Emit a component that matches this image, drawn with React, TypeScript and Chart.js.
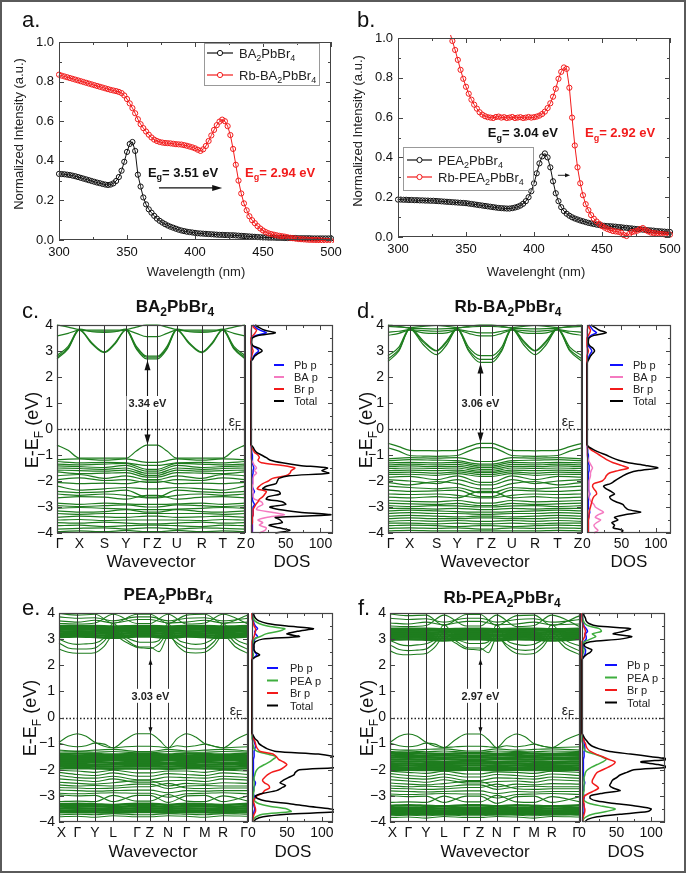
import React, { useEffect, useRef } from "react";
import { Chart, registerables } from "chart.js";

Chart.register(...registerables);

const FONT = "'Liberation Sans', Arial, Helvetica, sans-serif";
Chart.defaults.font.family = FONT;

// ---------------- absorption data (panels a, b) ----------------
const wavelengths = [300,302,304,306,308,310,312,314,316,318,320,322,324,326,328,330,332,334,336,338,340,342,344,346,348,350,352,354,356,358,360,362,364,366,368,370,372,374,376,378,380,382,384,386,388,390,392,394,396,398,400,402,404,406,408,410,412,414,416,418,420,422,424,426,428,430,432,434,436,438,440,442,444,446,448,450,452,454,456,458,460,462,464,466,468,470,472,474,476,478,480,482,484,486,488,490,492,494,496,498,500];
const absBA = [.334,.333,.332,.330,.328,.325,.322,.318,.314,.310,.306,.302,.298,.294,.290,.287,.283,.280,.278,.280,.286,.298,.318,.350,.395,.445,.485,.495,.450,.330,.270,.215,.180,.155,.138,.122,.108,.097,.088,.080,.073,.067,.062,.057,.052,.048,.045,.042,.040,.038,.036,.034,.033,.032,.031,.030,.029,.028,.027,.026,.026,.025,.025,.024,.024,.023,.022,.021,.020,.019,.018,.017,.016,.015,.014,.013,.013,.012,.012,.012,.011,.011,.011,.010,.010,.010,.010,.010,.009,.009,.009,.009,.009,.008,.008,.008,.008,.008,.008,.008,.008];
const absRbBA = [.835,.830,.826,.822,.818,.814,.810,.806,.802,.798,.794,.790,.786,.782,.778,.774,.770,.766,.762,.758,.755,.752,.748,.742,.730,.712,.690,.666,.640,.610,.585,.565,.548,.532,.518,.507,.500,.495,.492,.490,.489,.488,.486,.484,.483,.482,.479,.476,.472,.468,.463,.456,.450,.458,.475,.500,.528,.556,.580,.598,.608,.600,.575,.530,.460,.380,.300,.235,.185,.150,.120,.100,.085,.070,.058,.048,.040,.034,.030,.027,.024,.021,.019,.017,.014,.011,.009,.007,.005,.004,.003,.002,.001,.001,0,0,-.002,-.003,-.004,-.005,-.005];
const absPEA = [.188,.188,.187,.187,.186,.186,.185,.185,.184,.184,.183,.183,.182,.182,.181,.180,.179,.178,.177,.176,.175,.174,.173,.172,.171,.170,.168,.166,.164,.162,.160,.158,.156,.154,.152,.150,.148,.146,.145,.144,.143,.143,.145,.148,.152,.158,.167,.180,.200,.230,.270,.320,.370,.405,.420,.400,.350,.280,.220,.180,.150,.130,.117,.107,.099,.093,.088,.083,.079,.075,.071,.068,.065,.062,.060,.058,.056,.055,.054,.053,.052,.050,.049,.047,.046,.044,.043,.041,.040,.038,.037,.036,.034,.033,.032,.030,.029,.028,.027,.026,.025];
const wavelengthsRbPEA = [334,336,338,340,342,344,346,348,350,352,354,356,358,360,362,364,366,368,370,372,374,376,378,380,382,384,386,388,390,392,394,396,398,400,402,404,406,408,410,412,414,416,418,420,422,424,426,428,430,432,434,436,438,440,442,444,446,448,450,452,454,456,458,460,462,464,466,468,470,472,474,476,478,480,482,484,486,488,490,492,494,496,498,500];
const absRbPEA = [1.15,1.09,1.03,.985,.94,.89,.84,.795,.755,.72,.69,.665,.645,.627,.615,.607,.602,.600,.598,.603,.605,.600,.602,.598,.600,.603,.598,.600,.602,.598,.600,.603,.600,.602,.605,.610,.618,.630,.648,.672,.705,.745,.795,.830,.852,.845,.750,.600,.460,.350,.270,.210,.165,.135,.110,.092,.078,.066,.055,.047,.040,.035,.030,.028,.026,.022,.010,.005,.015,.025,.028,.032,.040,.045,.035,.028,.022,.020,.018,.016,.015,.013,.012,.012];

// ---------------- band structure: BA2PbBr4 (c) ----------------
const kLabelsBA = ["Γ","X","S","Y","Γ","Z","U","R","T","Z"];
const kPosBA = [0,22.3,47.3,69,89.7,100.3,119.7,144.7,165.7,188];
const kFineBA = [0,11.15,22.3,34.8,47.3,58.15,69,79.35,89.7,95,100.3,110,119.7,132.2,144.7,155.2,165.7,176.85,188];
const bandsBA_fine = [
  [2.70,3.08,3.80,3.28,2.94,3.28,3.80,3.08,2.70,2.70,2.70,3.08,3.80,3.28,2.94,3.28,3.80,3.08,2.70],
  [2.76,3.12,3.82,3.32,2.97,3.32,3.82,3.12,2.76,2.76,2.76,3.12,3.82,3.32,2.97,3.32,3.82,3.12,2.76],
  [2.82,3.18,3.84,3.74,3.72,3.74,3.84,3.18,2.80,2.80,2.80,3.18,3.84,3.74,3.72,3.74,3.84,3.18,2.82],
  [3.58,3.68,3.80,3.76,3.76,3.76,3.80,3.68,3.55,3.55,3.55,3.68,3.80,3.76,3.76,3.76,3.80,3.68,3.58],
  [4.00,3.92,3.82,3.80,3.80,3.80,3.82,3.92,4.00,4.00,4.00,3.92,3.82,3.80,3.80,3.80,3.82,3.92,4.00],
  [-0.62,-0.82,-1.12,-1.12,-1.12,-1.12,-1.12,-0.85,-0.62,-0.62,-0.62,-0.85,-1.12,-1.12,-1.12,-1.12,-1.12,-0.82,-0.62],
];
const bandsBA = [
  [-1.18,-1.15,-1.20,-1.15,-1.28,-1.28,-1.15,-1.20,-1.15,-1.18],
  [-1.25,-1.30,-1.28,-1.30,-1.40,-1.40,-1.30,-1.28,-1.30,-1.25],
  [-1.35,-1.38,-1.35,-1.32,-1.55,-1.55,-1.32,-1.35,-1.38,-1.35],
  [-1.42,-1.45,-1.48,-1.40,-1.62,-1.62,-1.40,-1.48,-1.45,-1.42],
  [-1.50,-1.52,-1.55,-1.50,-1.70,-1.70,-1.50,-1.55,-1.52,-1.50],
  [-1.58,-1.60,-1.62,-1.58,-1.78,-1.78,-1.58,-1.62,-1.60,-1.58],
  [-1.65,-1.72,-1.70,-1.68,-1.85,-1.85,-1.68,-1.70,-1.72,-1.65],
  [-1.80,-1.75,-1.90,-1.80,-1.95,-1.95,-1.80,-1.90,-1.75,-1.80],
  [-1.95,-1.88,-1.98,-1.95,-2.05,-2.05,-1.95,-1.98,-1.88,-1.95],
  [-2.05,-2.10,-2.08,-2.10,-2.00,-2.00,-2.10,-2.08,-2.10,-2.05],
  [-2.20,-2.35,-2.30,-2.25,-2.30,-2.30,-2.25,-2.30,-2.35,-2.20],
  [-2.40,-2.45,-2.42,-2.35,-2.62,-2.62,-2.35,-2.42,-2.45,-2.40],
  [-2.50,-2.55,-2.50,-2.55,-2.65,-2.65,-2.55,-2.50,-2.55,-2.50],
  [-2.65,-2.60,-2.62,-2.70,-2.55,-2.55,-2.70,-2.62,-2.60,-2.65],
  [-2.85,-2.90,-2.85,-2.88,-2.90,-2.90,-2.88,-2.85,-2.90,-2.85],
  [-2.95,-2.98,-2.95,-2.92,-3.00,-3.00,-2.92,-2.95,-2.98,-2.95],
  [-3.05,-3.02,-3.05,-3.08,-3.10,-3.10,-3.08,-3.05,-3.02,-3.05],
  [-3.15,-3.20,-3.18,-3.10,-3.20,-3.20,-3.10,-3.18,-3.20,-3.15],
  [-3.25,-3.28,-3.25,-3.25,-3.25,-3.25,-3.25,-3.25,-3.28,-3.25],
  [-3.40,-3.35,-3.38,-3.40,-3.35,-3.35,-3.40,-3.38,-3.35,-3.40],
  [-3.50,-3.48,-3.52,-3.50,-3.50,-3.50,-3.50,-3.52,-3.48,-3.50],
  [-3.60,-3.62,-3.58,-3.62,-3.65,-3.65,-3.62,-3.58,-3.62,-3.60],
  [-3.72,-3.70,-3.75,-3.72,-3.70,-3.70,-3.72,-3.75,-3.70,-3.72],
  [-3.85,-3.82,-3.80,-3.85,-3.80,-3.80,-3.85,-3.80,-3.82,-3.85],
  [-3.95,-3.92,-3.95,-3.90,-3.95,-3.95,-3.90,-3.95,-3.92,-3.95],
];

// ---------------- band structure: Rb-BA2PbBr4 (d) ----------------
const kPosRbBA = [0,21.7,48.4,69,91.7,103.4,123.4,146.7,169,193.4];
const kFineRbBA = [0,10.85,21.7,35.05,48.4,58.7,69,80.35,91.7,97.55,103.4,113.4,123.4,135.05,146.7,157.85,169,181.2,193.4];
const bandsRbBA_fine = [
  [2.60,3.00,3.85,3.25,2.86,3.25,3.85,3.00,2.56,2.56,2.56,3.00,3.85,3.25,2.86,3.25,3.85,3.00,2.60],
  [2.70,3.05,3.85,3.35,3.00,3.35,3.85,3.05,2.68,2.68,2.68,3.05,3.85,3.35,3.00,3.35,3.85,3.05,2.70],
  [2.82,3.15,3.88,3.40,3.02,3.40,3.88,3.15,2.82,2.82,2.82,3.15,3.88,3.40,3.02,3.40,3.88,3.15,2.82],
  [3.60,3.68,3.80,3.70,3.68,3.70,3.80,3.68,3.58,3.58,3.58,3.68,3.80,3.70,3.68,3.70,3.80,3.68,3.60],
  [3.72,3.76,3.82,3.78,3.76,3.78,3.82,3.76,3.70,3.70,3.70,3.76,3.82,3.78,3.76,3.78,3.82,3.76,3.72],
  [4.00,3.95,3.88,3.86,3.85,3.86,3.88,3.95,4.00,4.00,4.00,3.95,3.88,3.86,3.85,3.86,3.88,3.95,4.00],
  [3.95,3.92,3.90,3.95,3.98,3.95,3.90,3.92,3.95,3.95,3.95,3.92,3.90,3.95,3.98,3.95,3.90,3.92,3.95],
  [-0.55,-0.68,-0.82,-0.83,-0.84,-0.83,-0.82,-0.68,-0.55,-0.55,-0.55,-0.68,-0.82,-0.83,-0.84,-0.83,-0.82,-0.68,-0.55],
  [-0.72,-0.85,-1.02,-1.04,-1.05,-1.04,-1.02,-0.85,-0.72,-0.72,-0.72,-0.85,-1.02,-1.04,-1.05,-1.04,-1.02,-0.85,-0.72],
];
const bandsRbBA = [
  [-1.15,-1.10,-1.12,-1.10,-1.25,-1.25,-1.10,-1.12,-1.10,-1.15],
  [-1.22,-1.18,-1.20,-1.22,-1.35,-1.35,-1.22,-1.20,-1.18,-1.22],
  [-1.30,-1.28,-1.30,-1.28,-1.42,-1.42,-1.28,-1.30,-1.28,-1.30],
  [-1.38,-1.35,-1.38,-1.36,-1.48,-1.48,-1.36,-1.38,-1.35,-1.38],
  [-1.45,-1.42,-1.45,-1.44,-1.55,-1.55,-1.44,-1.45,-1.42,-1.45],
  [-1.52,-1.50,-1.52,-1.50,-1.62,-1.62,-1.50,-1.52,-1.50,-1.52],
  [-1.60,-1.58,-1.60,-1.58,-1.68,-1.68,-1.58,-1.60,-1.58,-1.60],
  [-1.68,-1.66,-1.70,-1.65,-1.75,-1.75,-1.65,-1.70,-1.66,-1.68],
  [-1.75,-1.74,-1.78,-1.72,-1.82,-1.82,-1.72,-1.78,-1.74,-1.75],
  [-1.85,-1.82,-1.95,-1.80,-2.05,-2.05,-1.80,-1.95,-1.82,-1.85],
  [-1.95,-2.00,-2.10,-1.95,-2.15,-2.15,-1.95,-2.10,-2.00,-1.95],
  [-2.05,-2.15,-2.02,-2.10,-2.30,-2.30,-2.10,-2.02,-2.15,-2.05],
  [-2.20,-2.25,-2.30,-2.25,-2.45,-2.45,-2.25,-2.30,-2.25,-2.20],
  [-2.35,-2.40,-2.38,-2.35,-2.60,-2.60,-2.35,-2.38,-2.40,-2.35],
  [-2.50,-2.52,-2.50,-2.55,-2.65,-2.65,-2.55,-2.50,-2.52,-2.50],
  [-2.62,-2.65,-2.60,-2.65,-2.40,-2.40,-2.65,-2.60,-2.65,-2.62],
  [-2.75,-2.78,-2.80,-2.75,-2.85,-2.85,-2.75,-2.80,-2.78,-2.75],
  [-2.85,-2.88,-2.90,-2.86,-2.95,-2.95,-2.86,-2.90,-2.88,-2.85],
  [-2.95,-2.98,-2.95,-2.96,-3.00,-3.00,-2.96,-2.95,-2.98,-2.95],
  [-3.05,-3.05,-3.08,-3.05,-3.10,-3.10,-3.05,-3.08,-3.05,-3.05],
  [-3.15,-3.12,-3.15,-3.18,-3.20,-3.20,-3.18,-3.15,-3.12,-3.15],
  [-3.25,-3.22,-3.25,-3.25,-3.28,-3.28,-3.25,-3.25,-3.22,-3.25],
  [-3.35,-3.32,-3.35,-3.38,-3.35,-3.35,-3.38,-3.35,-3.32,-3.35],
  [-3.45,-3.42,-3.45,-3.45,-3.42,-3.42,-3.45,-3.45,-3.42,-3.45],
  [-3.55,-3.52,-3.55,-3.52,-3.55,-3.55,-3.52,-3.55,-3.52,-3.55],
  [-3.62,-3.62,-3.65,-3.62,-3.65,-3.65,-3.62,-3.65,-3.62,-3.62],
  [-3.72,-3.70,-3.72,-3.75,-3.72,-3.72,-3.75,-3.72,-3.70,-3.72],
  [-3.82,-3.80,-3.82,-3.80,-3.85,-3.85,-3.80,-3.82,-3.80,-3.82],
  [-3.92,-3.90,-3.92,-3.92,-3.92,-3.92,-3.92,-3.92,-3.90,-3.92],
];

// ---------------- band structure: PEA2PbBr4 (e) ----------------
const kLabelsPEA = ["X","Γ","Y","L","Γ","Z","N","Γ","M","R","Γ"];
const kPosPEA = [0,18.3,36,54.3,78.3,91,109.3,127.7,146,164.3,189.3];
const kFinePEA = [0,9.2,18.3,27.2,36,45.2,54.3,66.3,78.3,84.7,91,100.2,109.3,118.5,127.7,136.9,146,155.2,164.3,176.8,189.3];
const bandsPEA_fine = [
  [-0.95,-0.72,-0.62,-0.72,-0.95,-1.10,-1.16,-0.85,-0.62,-0.62,-0.62,-0.85,-1.16,-0.80,-0.62,-0.75,-1.00,-1.10,-1.16,-0.85,-0.62],
  [-0.98,-1.08,-1.12,-1.08,-0.98,-1.02,-1.16,-1.12,-1.10,-1.10,-1.10,-1.12,-1.16,-1.08,-1.12,-1.08,-1.02,-1.10,-1.16,-1.14,-1.12],
  [2.62,2.50,2.46,2.46,2.48,2.72,3.15,2.90,2.68,2.66,2.64,2.82,3.20,2.75,2.50,2.47,2.50,2.75,3.15,2.70,2.45],
  [2.85,2.66,2.62,2.62,2.66,2.92,3.30,3.00,2.72,2.70,2.70,2.52,3.10,2.85,2.66,2.62,2.64,2.90,3.30,2.85,2.60],
  [3.00,2.85,2.80,2.82,2.85,3.05,3.60,3.10,2.90,2.88,2.88,2.95,3.60,3.00,2.85,2.80,2.84,3.05,3.60,3.00,2.78],
];
const bandsPEA = [
  [-1.25,-1.28,-1.25,-1.22,-1.30,-1.30,-1.22,-1.28,-1.25,-1.22,-1.28],
  [-1.32,-1.30,-1.33,-1.30,-1.35,-1.35,-1.30,-1.32,-1.33,-1.30,-1.32],
  [-2.02,-2.05,-2.10,-2.02,-2.12,-2.12,-2.05,-2.05,-2.10,-2.02,-2.05],
  [-2.10,-2.18,-2.22,-2.12,-2.25,-2.25,-2.15,-2.18,-2.22,-2.12,-2.18],
  [-2.22,-2.30,-2.32,-2.25,-2.38,-2.38,-2.28,-2.30,-2.32,-2.25,-2.30],
  [-2.35,-2.40,-2.45,-2.35,-2.48,-2.48,-2.42,-2.40,-2.45,-2.35,-2.40],
  [-2.48,-2.52,-2.55,-2.50,-2.42,-2.42,-2.62,-2.52,-2.55,-2.50,-2.52],
  [-2.58,-2.62,-2.60,-2.62,-2.55,-2.55,-2.72,-2.62,-2.60,-2.62,-2.62],
  [-2.68,-2.70,-2.72,-2.70,-2.65,-2.65,-2.52,-2.70,-2.72,-2.70,-2.70],
  [-2.78,-2.80,-2.82,-2.80,-2.78,-2.78,-2.88,-2.80,-2.82,-2.80,-2.80],
  [-2.90,-2.92,-2.90,-2.88,-2.90,-2.90,-3.05,-2.92,-2.90,-2.88,-2.92],
  [-2.96,-3.00,-2.98,-3.22,-2.98,-2.98,-3.25,-3.00,-2.98,-3.22,-3.00],
  [-3.22,-3.20,-3.22,-2.98,-3.20,-3.20,-2.95,-3.20,-3.22,-3.00,-3.20],
  [-3.72,-3.70,-3.72,-3.68,-3.72,-3.72,-3.68,-3.70,-3.72,-3.68,-3.70],
  [-3.80,-3.78,-3.82,-3.76,-3.80,-3.80,-3.76,-3.78,-3.82,-3.76,-3.78],
  [3.60,3.58,3.62,3.95,3.60,3.60,3.95,3.58,3.62,3.95,3.58],
  [3.70,3.65,3.72,3.62,3.75,3.75,3.62,3.65,3.72,3.62,3.65],
  [3.85,3.80,3.82,3.70,3.85,3.85,3.70,3.80,3.82,3.70,3.80],
  [3.98,3.92,3.95,3.60,3.95,3.95,3.60,3.92,3.95,3.60,3.92],
];
const bandsPEA_dense = [
  [-1.40,-1.38,-1.40,-1.42,-1.40,-1.40,-1.42,-1.38,-1.40,-1.42,-1.38],
  [-1.47,-1.46,-1.48,-1.47,-1.48,-1.48,-1.47,-1.46,-1.48,-1.47,-1.46],
  [-1.55,-1.54,-1.55,-1.56,-1.55,-1.55,-1.56,-1.54,-1.55,-1.56,-1.54],
  [-1.63,-1.62,-1.63,-1.62,-1.64,-1.64,-1.62,-1.62,-1.63,-1.62,-1.62],
  [-1.71,-1.70,-1.71,-1.72,-1.70,-1.70,-1.72,-1.70,-1.71,-1.72,-1.70],
  [-1.79,-1.78,-1.80,-1.79,-1.78,-1.78,-1.79,-1.78,-1.80,-1.79,-1.78],
  [-1.87,-1.86,-1.87,-1.88,-1.86,-1.86,-1.88,-1.86,-1.87,-1.88,-1.86],
  [-1.95,-1.94,-1.95,-1.96,-1.95,-1.95,-1.96,-1.94,-1.95,-1.96,-1.94],
  [-3.32,-3.30,-3.32,-3.35,-3.30,-3.30,-3.35,-3.30,-3.32,-3.35,-3.30],
  [-3.40,-3.39,-3.40,-3.42,-3.39,-3.39,-3.42,-3.39,-3.40,-3.42,-3.39],
  [-3.48,-3.47,-3.48,-3.50,-3.47,-3.47,-3.50,-3.47,-3.48,-3.50,-3.47],
  [-3.56,-3.55,-3.56,-3.57,-3.55,-3.55,-3.57,-3.55,-3.56,-3.57,-3.55],
  [-3.63,-3.62,-3.63,-3.64,-3.62,-3.62,-3.64,-3.62,-3.63,-3.64,-3.62],
  [3.08,3.10,3.08,3.05,3.10,3.10,3.05,3.10,3.08,3.05,3.10],
  [3.15,3.16,3.15,3.12,3.16,3.16,3.12,3.16,3.15,3.12,3.16],
  [3.22,3.23,3.22,3.20,3.23,3.23,3.20,3.23,3.22,3.20,3.23],
  [3.29,3.30,3.29,3.28,3.30,3.30,3.28,3.30,3.29,3.28,3.30],
  [3.36,3.37,3.36,3.35,3.37,3.37,3.35,3.37,3.36,3.35,3.37],
  [3.43,3.44,3.43,3.42,3.44,3.44,3.42,3.44,3.43,3.42,3.44],
  [3.50,3.50,3.50,3.48,3.50,3.50,3.48,3.50,3.50,3.48,3.50],
];

// ---------------- band structure: Rb-PEA2PbBr4 (f) ----------------
const kPosRbPEA = [0,18.3,36,54,76.7,90,106.7,126.7,144,161.7,190];
const kFineRbPEA = [0,9.2,18.3,27.2,36,45,54,65.4,76.7,83.4,90,98.4,106.7,116.7,126.7,135.4,144,152.9,161.7,175.9,190];
const bandsRbPEA_fine = [
  [-0.95,-0.72,-0.63,-0.72,-0.95,-1.10,-1.15,-0.85,-0.63,-0.63,-0.63,-0.85,-1.15,-0.80,-0.63,-0.75,-1.00,-1.10,-1.15,-0.85,-0.63],
  [-0.98,-1.08,-1.12,-1.08,-0.98,-1.02,-1.15,-1.12,-1.10,-1.10,-1.10,-1.12,-1.15,-1.08,-1.12,-1.08,-1.02,-1.10,-1.15,-1.14,-1.12],
  [2.55,2.42,2.40,2.42,2.45,2.70,3.10,2.85,2.62,2.60,2.58,2.78,3.15,2.70,2.45,2.42,2.45,2.70,3.10,2.65,2.40],
  [2.78,2.60,2.56,2.58,2.62,2.88,3.25,2.95,2.68,2.66,2.66,2.48,3.05,2.80,2.60,2.57,2.60,2.85,3.25,2.80,2.55],
  [2.95,2.80,2.75,2.78,2.82,3.00,3.55,3.05,2.85,2.83,2.83,2.90,3.55,2.95,2.80,2.76,2.80,3.00,3.55,2.95,2.74],
];
const bandsRbPEA = [
  [-1.22,-1.25,-1.22,-1.20,-1.28,-1.28,-1.20,-1.25,-1.22,-1.20,-1.25],
  [-1.30,-1.28,-1.31,-1.28,-1.33,-1.33,-1.28,-1.30,-1.31,-1.28,-1.30],
  [-2.06,-2.10,-2.14,-2.06,-2.16,-2.16,-2.08,-2.10,-2.14,-2.06,-2.10],
  [-2.15,-2.22,-2.26,-2.16,-2.28,-2.28,-2.18,-2.22,-2.26,-2.16,-2.22],
  [-2.26,-2.33,-2.36,-2.28,-2.41,-2.41,-2.31,-2.33,-2.36,-2.28,-2.33],
  [-2.38,-2.43,-2.48,-2.38,-2.51,-2.51,-2.45,-2.43,-2.48,-2.38,-2.43],
  [-2.51,-2.55,-2.58,-2.53,-2.45,-2.45,-2.65,-2.55,-2.58,-2.53,-2.55],
  [-2.61,-2.65,-2.63,-2.65,-2.58,-2.58,-2.75,-2.65,-2.63,-2.65,-2.65],
  [-2.71,-2.73,-2.75,-2.73,-2.68,-2.68,-2.55,-2.73,-2.75,-2.73,-2.73],
  [-2.81,-2.83,-2.85,-2.83,-2.81,-2.81,-2.91,-2.83,-2.85,-2.83,-2.83],
  [-2.93,-2.95,-2.93,-2.91,-2.93,-2.93,-3.08,-2.95,-2.93,-2.91,-2.95],
  [-2.99,-3.03,-3.01,-3.25,-3.01,-3.01,-3.28,-3.03,-3.01,-3.25,-3.03],
  [-3.25,-3.23,-3.25,-3.01,-3.23,-3.23,-2.98,-3.23,-3.25,-3.03,-3.23],
  [-3.76,-3.74,-3.76,-3.72,-3.76,-3.76,-3.72,-3.74,-3.76,-3.72,-3.74],
  [-3.83,-3.81,-3.85,-3.79,-3.83,-3.83,-3.79,-3.81,-3.85,-3.79,-3.81],
  [3.50,3.48,3.52,3.92,3.50,3.50,3.92,3.48,3.52,3.92,3.48],
  [3.62,3.58,3.65,3.55,3.68,3.68,3.55,3.58,3.65,3.55,3.58],
  [3.80,3.75,3.78,3.65,3.80,3.80,3.65,3.75,3.78,3.65,3.75],
  [3.96,3.90,3.92,3.52,3.94,3.94,3.52,3.90,3.92,3.52,3.90],
];
const bandsRbPEA_dense = [
  [-1.37,-1.36,-1.38,-1.39,-1.37,-1.37,-1.39,-1.36,-1.38,-1.39,-1.36],
  [-1.45,-1.44,-1.46,-1.45,-1.46,-1.46,-1.45,-1.44,-1.46,-1.45,-1.44],
  [-1.53,-1.52,-1.53,-1.54,-1.53,-1.53,-1.54,-1.52,-1.53,-1.54,-1.52],
  [-1.61,-1.60,-1.61,-1.60,-1.62,-1.62,-1.60,-1.60,-1.61,-1.60,-1.60],
  [-1.69,-1.68,-1.69,-1.70,-1.68,-1.68,-1.70,-1.68,-1.69,-1.70,-1.68],
  [-1.77,-1.76,-1.78,-1.77,-1.76,-1.76,-1.77,-1.76,-1.78,-1.77,-1.76],
  [-1.85,-1.84,-1.85,-1.86,-1.84,-1.84,-1.86,-1.84,-1.85,-1.86,-1.84],
  [-1.93,-1.92,-1.93,-1.94,-1.93,-1.93,-1.94,-1.92,-1.93,-1.94,-1.92],
  [-2.01,-2.00,-2.01,-2.02,-2.00,-2.00,-2.02,-2.00,-2.01,-2.02,-2.00],
  [-3.38,-3.36,-3.38,-3.40,-3.36,-3.36,-3.40,-3.36,-3.38,-3.40,-3.36],
  [-3.46,-3.45,-3.46,-3.48,-3.45,-3.45,-3.48,-3.45,-3.46,-3.48,-3.45],
  [-3.54,-3.53,-3.54,-3.56,-3.53,-3.53,-3.56,-3.53,-3.54,-3.56,-3.53],
  [-3.62,-3.61,-3.62,-3.63,-3.61,-3.61,-3.63,-3.61,-3.62,-3.63,-3.61],
  [-3.69,-3.68,-3.69,-3.70,-3.68,-3.68,-3.70,-3.68,-3.69,-3.70,-3.68],
  [2.98,3.00,2.98,2.95,3.00,3.00,2.95,3.00,2.98,2.95,3.00],
  [3.05,3.06,3.05,3.02,3.06,3.06,3.02,3.06,3.05,3.02,3.06],
  [3.12,3.13,3.12,3.10,3.13,3.13,3.10,3.13,3.12,3.10,3.13],
  [3.19,3.20,3.19,3.18,3.20,3.20,3.18,3.20,3.19,3.18,3.20],
  [3.26,3.27,3.26,3.25,3.27,3.27,3.25,3.27,3.26,3.25,3.27],
  [3.33,3.34,3.33,3.32,3.34,3.34,3.32,3.34,3.33,3.32,3.34],
  [3.40,3.40,3.40,3.38,3.40,3.40,3.38,3.40,3.40,3.38,3.40],
];

// ---------------- DOS data ----------------
const dosEnergyVB = [-4.0,-3.9,-3.8,-3.7,-3.6,-3.5,-3.4,-3.3,-3.2,-3.1,-3.0,-2.9,-2.8,-2.7,-2.6,-2.5,-2.4,-2.3,-2.2,-2.1,-2.0,-1.9,-1.8,-1.7,-1.6,-1.5,-1.4,-1.3,-1.2,-1.1,-1.0,-0.9,-0.8,-0.7,-0.6,-0.5];
const dosEnergyCB = [2.2,2.3,2.4,2.5,2.6,2.7,2.8,2.9,3.0,3.1,3.2,3.3,3.4,3.5,3.6,3.7,3.8,3.9,4.0];

const dosBA_totalVB = [35,56,40,26,45,42,35,115,70,40,27,50,45,22,25,42,40,17,22,36,38,40,55,112,102,110,70,45,28,22,15,8,5,3,0,0];
const dosBA_BrVB = [1,1,1,1,2,2,2,3,3,3,5,7,10,12,17,20,22,9,12,17,25,31,50,56,58,63,45,15,10,12,10,5,3,1,0,0];
const dosBA_orgVB = [12,20,22,12,17,10,22,48,30,8,10,17,15,5,3,3,3,2,2,3,3,3,4,8,5,8,5,3,1,0,0,0,0,0,0,0];
const dosBA_PbVB = [2,2,2,2,2,2,2,3,3,3,3,5,3,2,2,3,5,3,2,2,2,2,2,3,3,4,3,2,2,2,2,1,1,0,0,0];
const dosBA_totalCB = [0,0,0,0,0,3,5,10,16,12,3,1,1,2,10,35,20,12,6];
const dosBA_BrCB = [0,0,0,0,0,0,1,2,3,2,1,0,0,0,3,6,8,4,2];
const dosBA_orgCB = [0,0,0,0,0,0,0,0,0,0,0,0,0,0,0,0,0,1,1];
const dosBA_PbCB = [0,0,0,0,0,2,4,7,11,8,2,0,0,1,7,22,13,7,3];

const dosRbBA_totalVB = [50,52,38,40,36,45,40,55,78,60,55,52,42,35,33,40,35,28,24,34,40,46,52,60,75,103,85,60,46,36,28,18,10,3,0,0];
const dosRbBA_BrVB = [2,2,2,2,2,2,3,3,3,4,5,6,7,8,10,14,13,10,8,10,22,26,28,32,45,60,50,38,30,24,18,12,6,2,0,0];
const dosRbBA_orgVB = [10,16,12,10,14,20,12,16,24,18,12,10,6,4,3,3,3,3,3,3,3,4,5,5,6,8,6,4,2,1,0,0,0,0,0,0];
const dosRbBA_PbVB = [2,2,2,2,2,2,2,3,4,3,2,2,2,2,3,4,3,2,2,2,2,2,2,2,3,3,3,2,2,2,2,1,1,0,0,0];
const dosRbBA_totalCB = [0,0,0,0,1,3,5,8,11,9,4,2,2,3,10,28,18,12,6];
const dosRbBA_BrCB = [0,0,0,0,0,0,0,1,2,1,0,0,0,0,2,4,5,3,2];
const dosRbBA_orgCB = [0,0,0,0,0,0,0,0,0,0,0,0,0,0,0,0,0,1,1];
const dosRbBA_PbCB = [0,0,0,0,0,2,3,5,7,5,2,1,1,2,6,14,9,6,3];

const dosPEA_totalVB = [3,5,16,50,125,112,80,54,20,8,5,16,35,42,48,40,45,52,60,62,68,125,120,125,130,118,95,35,22,15,10,8,4,2,0,0];
const dosPEA_BrVB = [1,1,2,3,5,5,4,3,2,4,7,15,18,25,24,18,15,18,22,28,40,46,50,45,38,35,30,12,8,6,5,4,2,1,0,0];
const dosPEA_orgVB = [1,2,6,15,56,50,25,10,4,2,2,2,3,3,3,3,3,3,4,5,7,11,18,25,30,35,22,8,3,2,1,1,0,0,0,0];
const dosPEA_PbVB = [1,1,1,2,3,4,3,2,2,4,3,2,2,2,4,5,3,2,2,2,2,2,2,2,2,3,3,3,4,5,4,3,2,1,0,0];
const dosPEA_totalCB = [0,4,11,5,3,3,3,5,15,68,50,65,88,50,22,10,5,3,2];
const dosPEA_BrCB = [0,0,0,0,0,0,0,0,1,3,4,5,5,3,2,1,0,0,0];
const dosPEA_orgCB = [0,1,2,1,1,1,1,2,3,12,20,38,47,22,10,4,2,1,0];
const dosPEA_PbCB = [0,3,7,4,2,2,2,3,4,8,5,4,8,5,3,2,1,1,0];

const dosRbPEA_totalVB = [4,8,22,55,95,100,80,50,22,12,12,30,55,45,40,42,44,50,55,65,75,125,110,85,125,100,70,40,25,15,10,7,4,2,0,0];
const dosRbPEA_BrVB = [1,1,2,3,4,4,3,3,2,2,4,10,18,24,20,15,15,17,19,22,30,38,45,48,38,30,20,12,8,6,5,3,2,1,0,0];
const dosRbPEA_orgVB = [1,2,6,15,35,48,30,12,4,2,2,2,3,3,3,3,3,3,4,5,8,14,22,30,35,28,18,6,3,2,1,0,0,0,0,0];
const dosRbPEA_PbVB = [1,1,1,2,3,3,3,2,2,3,3,2,2,2,3,4,3,2,2,2,2,2,2,2,2,3,3,3,4,4,3,3,2,1,0,0];
const dosRbPEA_totalCB = [0,2,6,12,14,5,3,12,55,72,45,60,70,22,10,6,5,3,2];
const dosRbPEA_BrCB = [0,0,0,0,0,0,0,0,2,4,4,5,4,2,1,0,0,0,0];
const dosRbPEA_orgCB = [0,0,1,2,3,1,1,4,12,20,15,28,25,10,4,2,1,1,0];
const dosRbPEA_PbCB = [0,2,4,5,5,2,2,3,6,6,5,8,6,3,2,1,1,0,0];

// ---------------- styling constants ----------------
const GREEN = "#1e7d1e";
const FRAME = "#444";
const KLINE = "#333";
const RED = "#f21b1b";
const BLUE = "#1010ff";
const PINK = "#f47ac0";
const LGREEN = "#3fae3f";
const Y_MAJOR = [-4, -3, -2, -1, 0, 1, 2, 3, 4];
const Y_MINOR = [-3.5, -2.5, -1.5, -0.5, 0.5, 1.5, 2.5, 3.5];

// ---------------- drawing helpers ----------------
function parseRich(s: string) {
  const out: { t: string; sub: boolean }[] = [];
  let buf = "";
  for (let i = 0; i < s.length; i++) {
    const ch = s[i];
    if (ch === "_") {
      if (buf) { out.push({ t: buf, sub: false }); buf = ""; }
      if (s[i + 1] === "{") { const j = s.indexOf("}", i); out.push({ t: s.slice(i + 2, j), sub: true }); i = j; }
      else { out.push({ t: s[i + 1], sub: true }); i++; }
    } else buf += ch;
  }
  if (buf) out.push({ t: buf, sub: false });
  return out;
}
function fontStr(size: number, bold?: boolean) { return `${bold ? "bold " : ""}${size}px ${FONT}`; }
function measureRich(ctx: any, s: string, size: number, bold?: boolean) {
  const ss = Math.round(size * 0.68);
  let w = 0;
  parseRich(s).forEach((g) => { ctx.font = fontStr(g.sub ? ss : size, bold); w += ctx.measureText(g.t).width; });
  return w;
}
function rich(ctx: any, s: string, x: number, y: number, size: number, o: any = {}) {
  const segs = parseRich(s);
  const ss = Math.round(size * 0.68);
  const ws = segs.map((g) => { ctx.font = fontStr(g.sub ? ss : size, o.bold); return ctx.measureText(g.t).width; });
  const total = ws.reduce((a: number, b: number) => a + b, 0);
  let cx = o.align === "center" ? x - total / 2 : o.align === "right" ? x - total : x;
  ctx.fillStyle = o.color || "#111";
  ctx.textAlign = "left";
  ctx.textBaseline = "alphabetic";
  segs.forEach((g, i) => {
    ctx.font = fontStr(g.sub ? ss : size, o.bold);
    ctx.fillText(g.t, cx, g.sub ? y + size * 0.24 : y);
    cx += ws[i];
  });
}
function richRot(ctx: any, s: string, cx: number, cy: number, size: number, o: any = {}) {
  ctx.save();
  ctx.translate(cx, cy);
  ctx.rotate(-Math.PI / 2);
  rich(ctx, s, 0, size * 0.36, size, { ...o, align: "center" });
  ctx.restore();
}
function seg(ctx: any, x1: number, y1: number, x2: number, y2: number, color: string, lw: number, dash?: number[]) {
  ctx.save();
  ctx.strokeStyle = color;
  ctx.lineWidth = lw;
  if (dash) ctx.setLineDash(dash);
  ctx.beginPath();
  ctx.moveTo(x1, y1);
  ctx.lineTo(x2, y2);
  ctx.stroke();
  ctx.restore();
}
function frame(ctx: any, A: any, color: string, lw: number) {
  ctx.save();
  ctx.strokeStyle = color;
  ctx.lineWidth = lw;
  ctx.strokeRect(Math.round(A.left) + 0.5, Math.round(A.top) + 0.5, Math.round(A.right - A.left) - 1, Math.round(A.bottom - A.top) - 1);
  ctx.restore();
}
function ticksX(ctx: any, A: any, X: any, vals: number[], len: number, top: boolean, bottom: boolean) {
  vals.forEach((v) => {
    const x = Math.round(X(v)) + 0.5;
    if (bottom) seg(ctx, x, A.bottom, x, A.bottom - len, FRAME, 1);
    if (top) seg(ctx, x, A.top, x, A.top + len, FRAME, 1);
  });
}
function ticksY(ctx: any, A: any, Y: any, vals: number[], len: number, left: boolean, right: boolean) {
  vals.forEach((v) => {
    const y = Math.round(Y(v)) + 0.5;
    if (left) seg(ctx, A.left, y, A.left + len, y, FRAME, 1);
    if (right) seg(ctx, A.right, y, A.right - len, y, FRAME, 1);
  });
}
function head(ctx: any, x: number, y: number, dir: string, w: number, l: number, color: string) {
  ctx.save();
  ctx.fillStyle = color;
  ctx.beginPath();
  ctx.moveTo(x, y);
  if (dir === "up") { ctx.lineTo(x - w / 2, y + l); ctx.lineTo(x + w / 2, y + l); }
  else if (dir === "down") { ctx.lineTo(x - w / 2, y - l); ctx.lineTo(x + w / 2, y - l); }
  else { ctx.lineTo(x - l, y - w / 2); ctx.lineTo(x - l, y + w / 2); }
  ctx.closePath();
  ctx.fill();
  ctx.restore();
}
function mkPlugin(ox: number, oy: number, draw: (chart: any, ctx: any, X: any, Y: any, A: any) => void) {
  return {
    id: "decor",
    afterDraw(chart: any) {
      const ctx = chart.ctx;
      ctx.save();
      ctx.translate(-ox, -oy);
      const xs = chart.scales.x, ys = chart.scales.y;
      const X = (v: number) => xs.getPixelForValue(v) + ox;
      const Y = (v: number) => ys.getPixelForValue(v) + oy;
      const a = chart.chartArea;
      const A = { left: a.left + ox, right: a.right + ox, top: a.top + oy, bottom: a.bottom + oy };
      draw(chart, ctx, X, Y, A);
      ctx.restore();
    },
  };
}
function fixX(h: number) { return (s: any) => { s.height = h; s.paddingLeft = 0; s.paddingRight = 0; }; }
function fixY(w: number) { return (s: any) => { s.width = w; s.paddingTop = 0; s.paddingBottom = 0; }; }
const noGrid = { display: false, drawTicks: false };

// ---------------- layout of the canvases ----------------
type Box = { left: number; top: number; width: number; height: number };
const boxes: Record<string, Box> = {
  a: { left: 0, top: 0, width: 343, height: 282 },
  b: { left: 343, top: 0, width: 344, height: 282 },
  c: { left: 0, top: 282, width: 248, height: 293 },
  cd: { left: 243, top: 282, width: 100, height: 293 },
  d: { left: 343, top: 282, width: 242, height: 293 },
  dd: { left: 579, top: 282, width: 108, height: 293 },
  e: { left: 0, top: 575, width: 250, height: 299 },
  ed: { left: 244, top: 575, width: 99, height: 299 },
  f: { left: 343, top: 575, width: 240, height: 299 },
  fd: { left: 574, top: 575, width: 113, height: 299 },
};

// ---------------- absorption panels ----------------
function absConfig(key: string, box: Box, series: any[], pad: any, deco: any) {
  return {
    type: "scatter",
    data: {
      datasets: series.map((s) => ({
        data: s.x.map((x: number, i: number) => ({ x, y: s.y[i] })),
        showLine: true,
        borderColor: s.color,
        borderWidth: 1,
        pointRadius: 2.6,
        pointBorderWidth: 1,
        pointBorderColor: s.color,
        pointBackgroundColor: "rgba(255,255,255,0)",
        clip: 3,
      })),
    },
    options: {
      animation: false,
      responsive: false,
      events: [],
      layout: { padding: { top: pad.top, right: pad.right, left: 0, bottom: 0 } },
      plugins: { legend: { display: false }, tooltip: { enabled: false } },
      scales: {
        x: {
          type: "linear", min: 300, max: 500,
          ticks: { stepSize: 50, includeBounds: false, maxRotation: 0, padding: 5, color: "#111", font: { size: 13, family: FONT } },
          grid: noGrid, border: { display: false }, afterFit: fixX(pad.xh),
        },
        y: {
          type: "linear", min: 0, max: 1,
          ticks: { stepSize: 0.2, includeBounds: false, padding: 5, color: "#111", font: { size: 13, family: FONT }, callback: (v: any) => Number(v).toFixed(1) },
          grid: noGrid, border: { display: false }, afterFit: fixY(pad.yw),
        },
      },
    },
    plugins: [mkPlugin(box.left, box.top, deco)],
  };
}
function absFrame(ctx: any, A: any, X: any, Y: any) {
  frame(ctx, A, FRAME, 1);
  ticksX(ctx, A, X, [300, 350, 400, 450, 500], 5, true, true);
  ticksX(ctx, A, X, [325, 375, 425, 475], 3, true, true);
  ticksY(ctx, A, Y, [0, 0.2, 0.4, 0.6, 0.8, 1.0], 5, true, true);
  ticksY(ctx, A, Y, [0.1, 0.3, 0.5, 0.7, 0.9], 3, true, true);
}
function legendEntry(ctx: any, x1: number, x2: number, y: number, color: string, label: string) {
  seg(ctx, x1, y, x2, y, color, 1.2);
  ctx.save();
  ctx.strokeStyle = color;
  ctx.lineWidth = 1;
  ctx.fillStyle = "#fff";
  ctx.beginPath();
  ctx.arc((x1 + x2) / 2, y, 2.6, 0, Math.PI * 2);
  ctx.fill();
  ctx.stroke();
  ctx.restore();
  rich(ctx, label, x2 + 6, y + 4.5, 13, { color: "#222" });
}

// ---------------- band panels ----------------
function bandConfig(box: Box, p: any) {
  const sets: any[] = [];
  const add = (grid: number[], arr: number[][], lw: number) => {
    arr.forEach((b) => {
      sets.push({
        data: b.map((y, i) => ({ x: grid[i], y })).filter((pt) => pt.x !== undefined),
        showLine: true, borderColor: GREEN, borderWidth: lw, pointRadius: 0,
        cubicInterpolationMode: "monotone", clip: 1,
      });
    });
  };
  add(p.kpos, p.dense || [], 2.5);
  add(p.kpos, p.bands, p.lw);
  add(p.fine, p.fineBands, p.lw);
  const kmax = p.kpos[p.kpos.length - 1];
  const plotW = box.width - p.pad.yw - p.pad.right;
  const perPx = kmax / plotW;
  return {
    type: "scatter",
    data: { datasets: sets },
    options: {
      animation: false, responsive: false, events: [],
      layout: { padding: { top: p.pad.top, right: p.pad.right, left: 0, bottom: 0 } },
      plugins: { legend: { display: false }, tooltip: { enabled: false } },
      scales: {
        x: {
          type: "linear", min: 0, max: kmax,
          afterBuildTicks: (s: any) => {
            s.ticks = p.kpos.map((v: number, i: number) => ({
              value: i === 0 ? v + 2.5 * perPx : i === p.kpos.length - 1 ? v - 4 * perPx : v,
            }));
          },
          ticks: { autoSkip: false, maxRotation: 0, padding: 3, color: "#111", font: { size: 14, family: FONT }, callback: (_v: any, i: number) => p.klabels[i] },
          grid: noGrid, border: { display: false }, afterFit: fixX(p.pad.xh),
        },
        y: {
          type: "linear", min: -4, max: 4,
          ticks: { stepSize: 1, includeBounds: false, padding: 4, color: "#111", font: { size: 14, family: FONT }, callback: (v: any) => (v < 0 ? "\u2212" + Math.abs(v) : String(v)) },
          grid: noGrid, border: { display: false }, afterFit: fixY(p.pad.yw),
        },
      },
    },
    plugins: [mkPlugin(box.left, box.top, (chart: any, ctx: any, X: any, Y: any, A: any) => {
      p.kpos.forEach((k: number) => {
        const x = Math.round(X(k)) + 0.5;
        seg(ctx, x, A.top, x, A.bottom, KLINE, 1);
      });
      seg(ctx, A.left, Math.round(Y(0)) + 0.5, A.right, Math.round(Y(0)) + 0.5, "#222", 1.3, [1.5, 2]);
      frame(ctx, A, FRAME, 1.2);
      ticksY(ctx, A, Y, Y_MAJOR, 5, true, true);
      const g = p.gap;
      const gx = Math.round(X(g.x)) + 0.5;
      seg(ctx, gx, Y(g.top) + g.hl - 1, gx, Y(g.bottom) - g.hl + 1, "#111", 1.1);
      head(ctx, gx, Y(g.top), "up", g.hw, g.hl, "#111");
      head(ctx, gx, Y(g.bottom), "down", g.hw, g.hl, "#111");
      const w = measureRich(ctx, g.label, 11, true);
      ctx.fillStyle = "#fff";
      ctx.fillRect(gx - w / 2 - 2, Y(g.labelY) - 7, w + 4, 14);
      rich(ctx, g.label, gx, Y(g.labelY) + 4, 11, { bold: true, align: "center", color: "#222" });
      rich(ctx, "\u03b5_F", p.ef[0], p.ef[1], 14, { align: "center", color: "#222" });
      rich(ctx, p.letter, p.letterPos[0], p.letterPos[1], 22, { color: "#111" });
      rich(ctx, p.title, p.titlePos[0], p.titlePos[1], 17, { bold: true, align: "center", color: "#111" });
      richRot(ctx, "E-E_F (eV)", p.yTitlePos[0], p.yTitlePos[1], 18, { color: "#111" });
      rich(ctx, "Wavevector", p.xTitlePos[0], p.xTitlePos[1], 17, { align: "center", color: "#111" });
    })],
  };
}

// ---------------- DOS panels ----------------
function dosConfig(box: Box, p: any) {
  const sets = p.curves.map((c: any) => ({
    data: [
      ...dosEnergyVB.map((e, i) => ({ x: c.vb[i], y: e })),
      ...dosEnergyCB.map((e, i) => ({ x: c.cb[i], y: e })),
    ],
    showLine: true, borderColor: c.color, borderWidth: 1.5, pointRadius: 0, tension: 0.25, clip: 1,
  }));
  return {
    type: "scatter",
    data: { datasets: sets },
    options: {
      animation: false, responsive: false, events: [],
      layout: { padding: { top: p.pad.top, right: p.pad.right, left: 0, bottom: 0 } },
      plugins: { legend: { display: false }, tooltip: { enabled: false } },
      scales: {
        x: {
          type: "linear", min: 0, max: p.xmax,
          ticks: { stepSize: 50, includeBounds: false, maxRotation: 0, padding: 3, color: "#111", font: { size: 14, family: FONT } },
          grid: noGrid, border: { display: false }, afterFit: fixX(p.pad.xh),
        },
        y: {
          type: "linear", min: -4, max: 4,
          ticks: { display: false },
          grid: noGrid, border: { display: false }, afterFit: fixY(p.pad.yw),
        },
      },
    },
    plugins: [mkPlugin(box.left, box.top, (chart: any, ctx: any, X: any, Y: any, A: any) => {
      seg(ctx, A.left, Math.round(Y(0)) + 0.5, A.right, Math.round(Y(0)) + 0.5, "#222", 1.3, [1.5, 2]);
      frame(ctx, A, FRAME, 1.2);
      ticksY(ctx, A, Y, Y_MAJOR, 5, false, true);
      ticksY(ctx, A, Y, Y_MINOR, 3, false, true);
      ticksX(ctx, A, X, [50, 100], 5, true, true);
      ticksX(ctx, A, X, [25, 75], 3, true, true);
      p.legend.rows.forEach((r: any, i: number) => {
        const y = A.top + p.legend.y0 + i * p.legend.dy;
        seg(ctx, A.left + p.legend.x1, y, A.left + p.legend.x2, y, r[1], 2);
        rich(ctx, r[0], A.left + p.legend.tx, y + 4, 11, { color: "#222" });
      });
      rich(ctx, "DOS", p.dosPos[0], p.dosPos[1], 17, { align: "center", color: "#111" });
    })],
  };
}

// ---------------- panel descriptions ----------------
const panelC = {
  kpos: kPosBA, klabels: kLabelsBA, fine: kFineBA, bands: bandsBA, fineBands: bandsBA_fine, lw: 1.2,
  pad: { top: 43, right: 3, yw: 57, xh: 42 },
  gap: { x: 89.7, top: 2.64, bottom: -0.6, label: "3.34 eV", labelY: 1.0, hw: 6, hl: 10 },
  ef: [235, 426], letter: "c.", letterPos: [22, 318], title: "BA_2PbBr_4", titlePos: [175, 312],
  yTitlePos: [32, 430], xTitlePos: [151, 567],
};
const panelD = {
  kpos: kPosRbBA, klabels: kLabelsBA, fine: kFineRbBA, bands: bandsRbBA, fineBands: bandsRbBA_fine, lw: 1.2,
  pad: { top: 43, right: 3, yw: 45, xh: 42 },
  gap: { x: 91.7, top: 2.52, bottom: -0.52, label: "3.06 eV", labelY: 1.0, hw: 6, hl: 10 },
  ef: [568, 426], letter: "d.", letterPos: [357, 318], title: "Rb-BA_2PbBr_4", titlePos: [508, 312],
  yTitlePos: [366, 430], xTitlePos: [485, 567],
};
const panelE = {
  kpos: kPosPEA, klabels: kLabelsPEA, fine: kFinePEA, bands: bandsPEA, fineBands: bandsPEA_fine, dense: bandsPEA_dense, lw: 1.1,
  pad: { top: 38, right: 2, yw: 59, xh: 52 },
  gap: { x: 91, top: 2.25, bottom: -0.6, label: "3.03 eV", labelY: 0.83, hw: 4, hl: 6 },
  ef: [236, 715], letter: "e.", letterPos: [22, 615], title: "PEA_2PbBr_4", titlePos: [168, 600],
  yTitlePos: [30, 718], xTitlePos: [153, 857],
};
const panelF = {
  kpos: kPosRbPEA, klabels: kLabelsPEA, fine: kFineRbPEA, bands: bandsRbPEA, fineBands: bandsRbPEA_fine, dense: bandsRbPEA_dense, lw: 1.1,
  pad: { top: 38, right: 3, yw: 47, xh: 52 },
  gap: { x: 90, top: 2.25, bottom: -0.6, label: "2.97 eV", labelY: 0.83, hw: 4, hl: 6 },
  ef: [568, 715], letter: "f.", letterPos: [358, 615], title: "Rb-PEA_2PbBr_4", titlePos: [502, 603],
  yTitlePos: [367, 718], xTitlePos: [485, 857],
};
const dosC = {
  xmax: 118, pad: { top: 43, right: 10, yw: 8, xh: 42 },
  curves: [
    { vb: dosBA_totalVB, cb: dosBA_totalCB, color: "#000" },
    { vb: dosBA_BrVB, cb: dosBA_BrCB, color: RED },
    { vb: dosBA_orgVB, cb: dosBA_orgCB, color: PINK },
    { vb: dosBA_PbVB, cb: dosBA_PbCB, color: BLUE },
  ],
  legend: { x1: 23, x2: 33, tx: 43, y0: 40, dy: 12, rows: [["Pb p", BLUE], ["BA p", PINK], ["Br p", RED], ["Total", "#000"]] },
  dosPos: [292, 567],
};
const dosD = {
  xmax: 122, pad: { top: 43, right: 16, yw: 8, xh: 42 },
  curves: [
    { vb: dosRbBA_totalVB, cb: dosRbBA_totalCB, color: "#000" },
    { vb: dosRbBA_BrVB, cb: dosRbBA_BrCB, color: RED },
    { vb: dosRbBA_orgVB, cb: dosRbBA_orgCB, color: PINK },
    { vb: dosRbBA_PbVB, cb: dosRbBA_PbCB, color: BLUE },
  ],
  legend: { x1: 23, x2: 36, tx: 46, y0: 40, dy: 12, rows: [["Pb p", BLUE], ["BA p", PINK], ["Br p", RED], ["Total", "#000"]] },
  dosPos: [629, 567],
};
const dosE = {
  xmax: 116, pad: { top: 38, right: 10, yw: 8, xh: 52 },
  curves: [
    { vb: dosPEA_totalVB, cb: dosPEA_totalCB, color: "#000" },
    { vb: dosPEA_BrVB, cb: dosPEA_BrCB, color: RED },
    { vb: dosPEA_orgVB, cb: dosPEA_orgCB, color: LGREEN },
    { vb: dosPEA_PbVB, cb: dosPEA_PbCB, color: BLUE },
  ],
  legend: { x1: 15, x2: 26, tx: 38, y0: 55, dy: 12.5, rows: [["Pb p", BLUE], ["PEA p", LGREEN], ["Br p", RED], ["Total", "#000"]] },
  dosPos: [293, 857],
};
const dosF = {
  xmax: 120, pad: { top: 38, right: 22, yw: 8, xh: 52 },
  curves: [
    { vb: dosRbPEA_totalVB, cb: dosRbPEA_totalCB, color: "#000" },
    { vb: dosRbPEA_BrVB, cb: dosRbPEA_BrCB, color: RED },
    { vb: dosRbPEA_orgVB, cb: dosRbPEA_orgCB, color: LGREEN },
    { vb: dosRbPEA_PbVB, cb: dosRbPEA_PbCB, color: BLUE },
  ],
  legend: { x1: 23, x2: 35, tx: 45, y0: 52, dy: 12.5, rows: [["Pb p", BLUE], ["PEA p", LGREEN], ["Br p", RED], ["Total", "#000"]] },
  dosPos: [626, 857],
};

export default function App() {
  const refs = useRef<Record<string, HTMLCanvasElement | null>>({});

  useEffect(() => {
    const charts: Chart[] = [];
    const make = (key: string, cfg: any) => {
      const cv = refs.current[key];
      if (cv) charts.push(new Chart(cv, cfg));
    };

    make("a", absConfig("a", boxes.a, [
      { x: wavelengths, y: absRbBA, color: RED },
      { x: wavelengths, y: absBA, color: "#111" },
    ], { top: 42, right: 12, yw: 59, xh: 42 }, (chart: any, ctx: any, X: any, Y: any, A: any) => {
      absFrame(ctx, A, X, Y);
      ctx.save();
      ctx.strokeStyle = "#999";
      ctx.lineWidth = 1;
      ctx.strokeRect(204.5, 43.5, 115, 42);
      ctx.restore();
      legendEntry(ctx, 207, 233, 53, "#111", "BA_2PbBr_4");
      legendEntry(ctx, 207, 233, 75, RED, "Rb-BA_2PbBr_4");
      rich(ctx, "E_g= 3.51 eV", X(365.4), Y(0.343) + 4.5, 13, { bold: true, color: "#111" });
      rich(ctx, "E_g= 2.94 eV", X(436.8), Y(0.343) + 4.5, 13, { bold: true, color: RED });
      seg(ctx, X(373.5), Y(0.263), X(420) - 8, Y(0.263), "#111", 1.2);
      head(ctx, X(420), Y(0.263), "right", 6, 10, "#111");
      rich(ctx, "a.", 22, 27, 22, { color: "#111" });
      richRot(ctx, "Normalized Intensity (a.u.)", 18, 134, 13, { color: "#222" });
      rich(ctx, "Wavelength (nm)", 196, 276, 13, { align: "center", color: "#222" });
    }));

    make("b", absConfig("b", boxes.b, [
      { x: wavelengthsRbPEA, y: absRbPEA, color: RED },
      { x: wavelengths, y: absPEA, color: "#111" },
    ], { top: 38, right: 17, yw: 55, xh: 45 }, (chart: any, ctx: any, X: any, Y: any, A: any) => {
      absFrame(ctx, A, X, Y);
      ctx.save();
      ctx.strokeStyle = "#999";
      ctx.lineWidth = 1;
      ctx.strokeRect(403.5, 147.5, 130, 43);
      ctx.restore();
      legendEntry(ctx, 407, 432, 160, "#111", "PEA_2PbBr_4");
      legendEntry(ctx, 407, 432, 177, RED, "Rb-PEA_2PbBr_4");
      rich(ctx, "E_g= 3.04 eV", X(366), Y(0.523) + 4.5, 13, { bold: true, color: "#111" });
      rich(ctx, "E_g= 2.92 eV", X(437.5), Y(0.523) + 4.5, 13, { bold: true, color: RED });
      seg(ctx, X(417.6), Y(0.31), X(426.5) - 4, Y(0.31), "#111", 0.9);
      head(ctx, X(426.5), Y(0.31), "right", 4, 5, "#111");
      rich(ctx, "b.", 357, 27, 22, { color: "#111" });
      richRot(ctx, "Normalized Intensity (a.u.)", 357, 131, 13, { color: "#222" });
      rich(ctx, "Wavelenght (nm)", 536, 276, 13, { align: "center", color: "#222" });
    }));

    make("c", bandConfig(boxes.c, panelC));
    make("cd", dosConfig(boxes.cd, dosC));
    make("d", bandConfig(boxes.d, panelD));
    make("dd", dosConfig(boxes.dd, dosD));
    make("e", bandConfig(boxes.e, panelE));
    make("ed", dosConfig(boxes.ed, dosE));
    make("f", bandConfig(boxes.f, panelF));
    make("fd", dosConfig(boxes.fd, dosF));

    return () => { charts.forEach((c) => c.destroy()); };
  }, []);

  return (
    <div style={{ position: "absolute", left: 0, top: 0, width: 687, height: 874, background: "#fff", overflow: "hidden" }}>
      {Object.keys(boxes).map((k) => {
        const b = boxes[k];
        return (
          <canvas
            key={k}
            ref={(el) => { refs.current[k] = el; }}
            width={b.width}
            height={b.height}
            style={{ position: "absolute", left: b.left, top: b.top, width: b.width, height: b.height }}
          />
        );
      })}
      <div style={{ position: "absolute", left: 0, top: 0, width: 686, height: 873, boxSizing: "border-box", border: "2px solid #5a5a5a", pointerEvents: "none" }} />
    </div>
  );
}
